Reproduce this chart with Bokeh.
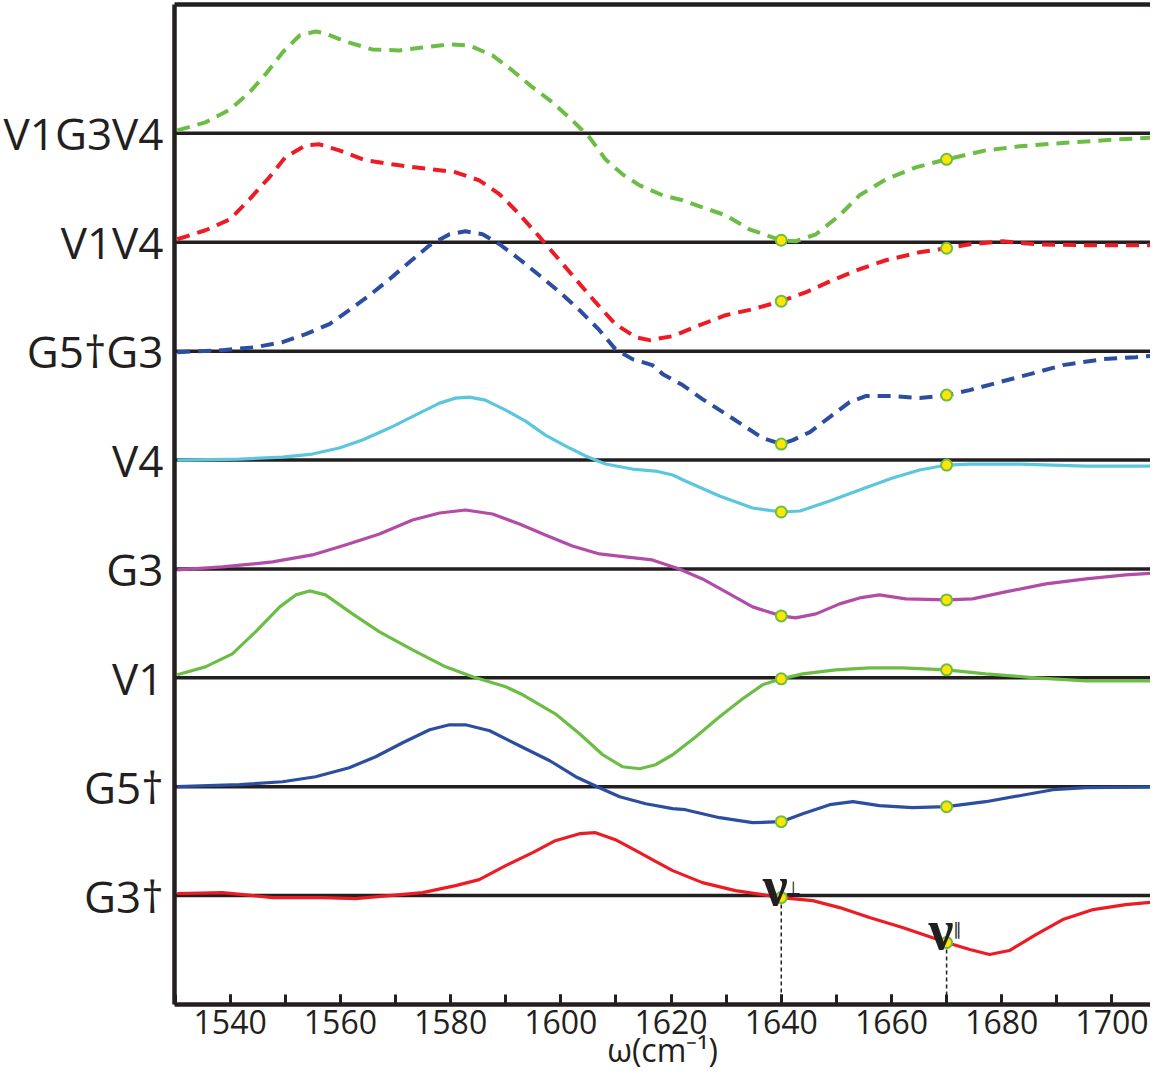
from bokeh.plotting import figure
from bokeh.models import FixedTicker, LinearAxis, SingleIntervalTicker, Range1d
from bokeh.embed import file_html
from bokeh.resources import INLINE
from bokeh.core.properties import value

# ---------------- data ----------------
series_names = ["G3†", "G5†", "V1", "G3", "V4", "G5†G3", "V1V4", "V1G3V4"]
x_label = "ω(cm⁻¹)"
x_ticks_major = 20
marker_x = [1640, 1670]

x_g3d = [1530.4, 1538.6, 1547.7, 1556.8, 1562.7, 1568.9, 1574.9, 1580.9, 1585.2, 1590.0, 1594.9, 1599.0,
         1603.4, 1606.3, 1609.9, 1614.3, 1616.6, 1620.3, 1625.7, 1631.7, 1640, 1645.7, 1650.6, 1656.0,
         1662.0, 1670, 1674.2, 1677.8, 1681.4, 1686.2, 1691.1, 1696.6, 1702.5, 1708.5]
y_g3d = [2, 3, -2, -2, -3, 0, 3, 10, 16, 30, 43, 55,
         62, 63, 56, 43, 36, 25, 13, 5, -2, -5, -12, -22,
         -32, -47, -54, -59, -55, -39, -24, -14, -9, -6]

x_g5d = [1530.4, 1541.7, 1549.5, 1555.5, 1561.6, 1566.4, 1571.3, 1576.2, 1579.8, 1582.7, 1587.1, 1592.5,
         1598.0, 1602.7, 1607.0, 1610.7, 1615.4, 1620.3, 1622.6, 1628.8, 1634.8, 1640, 1643.9, 1648.8,
         1653.0, 1657.8, 1663.8, 1670, 1677.1, 1683.2, 1689.3, 1695.3, 1708.5]
y_g5d = [0, 2, 5, 10, 19, 30, 44, 57, 62, 62, 56, 41,
         26, 10, -1, -10, -17, -22, -23, -31, -36, -35, -27, -18,
         -15, -19, -21, -20, -15, -9, -3, -1, 0]

x_v1 = [1530.4, 1535.5, 1540.4, 1544.6, 1549.0, 1551.9, 1554.4, 1557.3, 1562.2, 1567.1, 1573.1, 1579.1,
        1584.0, 1590.0, 1593.1, 1599.0, 1603.4, 1607.6, 1611.2, 1614.3, 1617.2, 1620.3, 1624.5, 1628.8,
        1633.0, 1636.6, 1640, 1643.9, 1649.9, 1656.0, 1662.0, 1670, 1677.1, 1686.2, 1695.3, 1708.5]
y_v1 = [3, 11, 24, 46, 71, 83, 87, 83, 64, 46, 28, 11,
        1, -9, -17, -36, -56, -77, -89, -91, -87, -77, -59, -39,
        -21, -7, -1, 4, 8, 10, 10, 8, 4, 0, -3, -3]

x_g3 = [1530.4, 1538.6, 1547.7, 1554.9, 1560.9, 1567.1, 1573.1, 1578.0, 1582.7, 1587.6, 1592.5, 1597.2,
        1602.1, 1607.0, 1611.7, 1616.6, 1621.5, 1625.7, 1630.6, 1634.8, 1640, 1642.6, 1646.3, 1650.6,
        1654.2, 1657.8, 1662.6, 1670, 1674.7, 1680.7, 1688.0, 1695.3, 1702.5, 1708.5]
y_g3 = [-1, 2, 7, 14, 24, 35, 49, 56, 59, 55, 45, 34,
        23, 15, 12, 9, 0, -10, -25, -38, -47, -49, -45, -35,
        -29, -26, -30, -31, -30, -23, -15, -10, -6, -4]

x_v4 = [1530.4, 1541.7, 1549.5, 1554.9, 1559.8, 1564.0, 1568.9, 1573.6, 1578.0, 1580.9, 1583.4, 1586.3,
        1590.0, 1593.6, 1597.2, 1600.9, 1604.5, 1608.1, 1613.0, 1617.2, 1620.3, 1622.6, 1628.8, 1634.8,
        1640, 1643.4, 1648.8, 1654.2, 1660.2, 1665.1, 1670, 1674.2, 1683.2, 1695.3, 1708.5]
y_v4 = [0, 1, 3, 6, 12, 20, 32, 45, 57, 62, 63, 60,
        50, 39, 25, 14, 4, -4, -9, -11, -15, -21, -36, -48,
        -52, -51, -41, -30, -18, -10, -5, -4, -4, -6, -6]

x_g5dg3 = [1530.4, 1538.6, 1544.6, 1549.5, 1553.7, 1558.0, 1561.6, 1565.3, 1568.9, 1572.5, 1576.2, 1579.8,
           1582.7, 1585.8, 1588.9, 1592.5, 1596.1, 1599.8, 1603.4, 1607.0, 1609.9, 1613.0, 1616.6, 1618.5,
           1622.1, 1625.7, 1629.4, 1633.0, 1636.6, 1640, 1642.1, 1645.2, 1648.8, 1652.4, 1655.3, 1660.2,
           1665.1, 1670, 1674.2, 1679.6, 1685.1, 1691.1, 1698.4, 1704.3, 1708.5]
y_g5dg3 = [-1, 1, 4, 9, 17, 27, 41, 56, 72, 89, 106, 117,
           120, 117, 107, 92, 76, 59, 41, 21, 2, -8, -14, -23,
           -34, -48, -61, -74, -87, -93, -89, -81, -66, -51, -45, -45,
           -47, -44, -39, -31, -23, -14, -8, -6, -4]

x_v1v4 = [1530.4, 1535.5, 1540.0, 1543.5, 1547.1, 1550.0, 1553.7, 1556.2, 1559.8, 1564.6, 1570.7, 1576.7,
          1580.9, 1585.2, 1588.9, 1591.8, 1595.4, 1599.0, 1602.7, 1606.3, 1609.9, 1613.6, 1616.1, 1620.3,
          1625.2, 1629.9, 1634.8, 1640, 1644.5, 1649.3, 1654.2, 1659.0, 1665.1, 1670, 1674.2, 1680.2,
          1686.2, 1695.3, 1708.5]
y_v1v4 = [3, 12, 23, 43, 65, 85, 97, 98, 92, 82, 77, 73,
          70, 62, 48, 32, 10, -13, -37, -60, -82, -95, -98, -94,
          -83, -73, -67, -59, -50, -38, -27, -18, -10, -6, -2, 1,
          -2, -3, -3]

x_v1g3v4 = [1530.4, 1535.5, 1540.0, 1543.5, 1546.4, 1549.5, 1552.6, 1555.5, 1557.3, 1560.9, 1565.8, 1570.7,
            1574.9, 1579.8, 1583.4, 1587.6, 1591.2, 1594.9, 1598.5, 1602.1, 1605.2, 1608.1, 1611.2, 1614.3,
            1618.5, 1622.1, 1625.7, 1629.9, 1634.2, 1640, 1642.6, 1646.3, 1650.6, 1654.2, 1659.0, 1664.4,
            1670, 1677.1, 1683.2, 1692.4, 1701.4, 1708.5]
y_v1g3v4 = [3, 11, 24, 41, 59, 81, 98, 102, 100, 92, 84, 83,
            86, 89, 88, 78, 63, 46, 31, 13, -4, -26, -41, -52,
            -62, -67, -74, -82, -96, -107, -108, -101, -82, -62, -46, -34,
            -26, -17, -13, -9, -6, -4]

# ---------------- styling ----------------
STEP = 109
INK = "#231F20"
GREEN = "#6CBD45"
RED = "#ED1C24"
BLUE = "#2C4EA0"
CYAN = "#5CC7DC"
MAGENTA = "#B24CA6"
YELLOW = "#FFE500"

curves = [
    (x_g3d, y_g3d, RED, "solid"),
    (x_g5d, y_g5d, BLUE, "solid"),
    (x_v1, y_v1, GREEN, "solid"),
    (x_g3, y_g3, MAGENTA, "solid"),
    (x_v4, y_v4, CYAN, "solid"),
    (x_g5dg3, y_g5dg3, BLUE, "dashed"),
    (x_v1v4, y_v1v4, RED, "dashed"),
    (x_v1g3v4, y_v1g3v4, GREEN, "dashed"),
]

X0, X1 = 1529.9, 1707.0
Y0, Y1 = -109.0, 892.0

p = figure(width=1150, height=1074, output_backend="svg", toolbar_location=None,
           x_range=Range1d(X0, X1), y_range=Range1d(Y0, Y1),
           min_border_left=174, min_border_right=0, min_border_top=4, min_border_bottom=70)
p.background_fill_color = "white"
p.border_fill_color = "white"
p.outline_line_color = None
p.grid.visible = False

# x axis
xa = p.xaxis[0]
xa.ticker = SingleIntervalTicker(interval=x_ticks_major, num_minor_ticks=2)
xa.axis_line_width = 4.5
xa.axis_line_color = INK
xa.major_tick_in = 10
xa.major_tick_out = 0
xa.minor_tick_in = 10
xa.minor_tick_out = 0
xa.major_tick_line_width = 3
xa.minor_tick_line_width = 3
xa.major_tick_line_color = INK
xa.minor_tick_line_color = INK
xa.major_label_text_font = "Open Sans"
xa.major_label_text_font_size = "32px"
xa.major_label_text_color = INK
xa.major_label_standoff = 5
xa.axis_label = x_label
xa.axis_label_text_font = "Open Sans"
xa.axis_label_text_font_size = "32px"
xa.axis_label_text_font_style = "normal"
xa.axis_label_text_color = INK
xa.axis_label_standoff = -9

# y axis with series names
ya = p.yaxis[0]
ya.ticker = FixedTicker(ticks=[i * STEP for i in range(len(series_names))])
ya.major_label_overrides = {i * STEP: n for i, n in enumerate(series_names)}
ya.axis_line_width = 4.5
ya.axis_line_color = INK
ya.major_tick_line_color = None
ya.minor_tick_line_color = None
ya.major_label_text_font = "Open Sans"
ya.major_label_text_font_size = "44px"
ya.major_label_text_color = INK
ya.major_label_standoff = 5

# top spine
top = LinearAxis(ticker=FixedTicker(ticks=[]), axis_line_width=4.5, axis_line_color=INK,
                 major_tick_line_color=None, minor_tick_line_color=None,
                 major_label_text_font_size="0px")
p.add_layout(top, "above")

# baselines
base = [i * STEP for i in range(len(series_names))]
p.segment(x0=[X0] * len(base), x1=[X1] * len(base), y0=base, y1=base,
          line_color=INK, line_width=3.5)

# vertical dashed guides from the G3† markers
g3d_m = [y_g3d[x_g3d.index(m)] for m in marker_x]
p.segment(x0=marker_x, x1=marker_x, y0=g3d_m, y1=[Y0] * 2,
          line_color=INK, line_width=1.5, line_dash="4 3")

# curves
for i, (xs, ys, col, style) in enumerate(curves):
    yy = [v + i * STEP for v in ys]
    if style == "dashed":
        p.line(xs, yy, line_color=col, line_width=4, line_dash="13 8")
    else:
        p.line(xs, yy, line_color=col, line_width=3.2, line_join="round")

# markers
mx, my = [], []
for i, (xs, ys, col, style) in enumerate(curves):
    for m in marker_x:
        mx.append(m)
        my.append(ys[xs.index(m)] + i * STEP)
p.scatter(mx, my, size=11, fill_color=YELLOW, line_color=GREEN, line_width=2)

# nu labels
p.text(x=[marker_x[0]], y=[g3d_m[0]], text=["ν"], x_offset=-6, y_offset=-12,
       text_font=value("Liberation Serif"), text_font_size="56px", text_font_style="bold",
       text_color=INK, text_align="center", text_baseline="alphabetic")
p.text(x=[marker_x[0]], y=[g3d_m[0]], text=["⊥"], x_offset=12, y_offset=-10,
       text_font=value("DejaVu Sans"), text_font_size="18px", text_color=INK,
       text_align="center", text_baseline="alphabetic")
p.text(x=[marker_x[1]], y=[g3d_m[1]], text=["ν"], x_offset=-5.5, y_offset=-13,
       text_font=value("Liberation Serif"), text_font_size="56px", text_font_style="bold",
       text_color=INK, text_align="center", text_baseline="alphabetic")
p.text(x=[marker_x[1]], y=[g3d_m[1]], text=["∥"], x_offset=11, y_offset=-14,
       text_font=value("DejaVu Sans"), text_font_size="17px", text_color=INK,
       text_align="center", text_baseline="alphabetic")

open("out.html", "w").write(file_html(p, INLINE))
